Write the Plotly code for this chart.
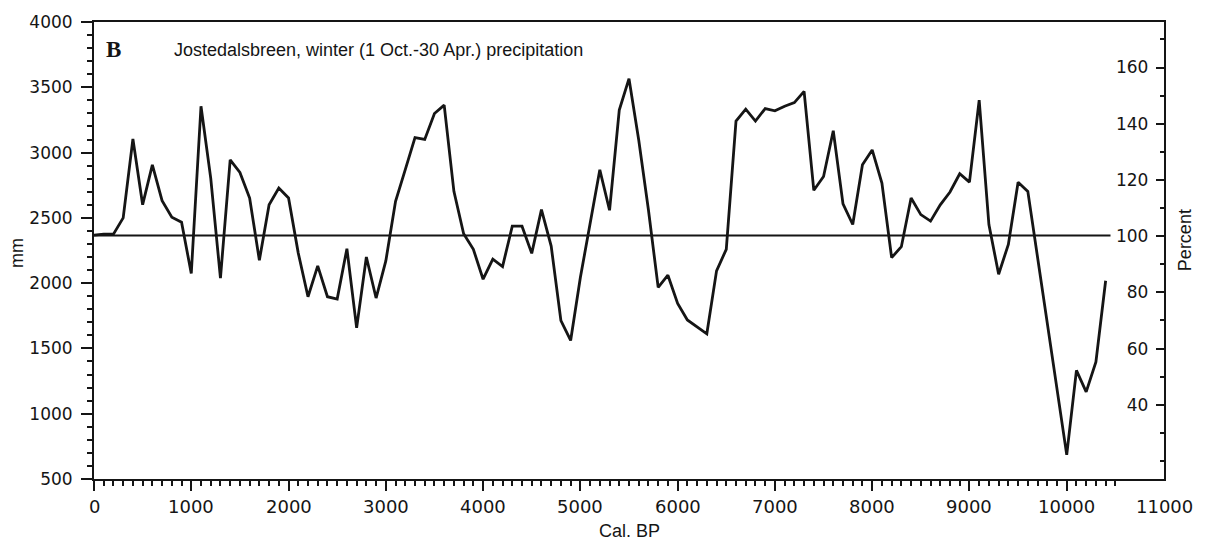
import plotly.graph_objects as go

# Winter (1 Oct.-30 Apr.) precipitation reconstruction, Jostedalsbreen
years = list(range(0, 10401, 100))
precip_mm = [
    2368, 2375, 2375, 2500, 3104, 2601, 2906, 2632, 2505, 2467,   # 0-900
    2074, 3355, 2804, 2038, 2944, 2848, 2652, 2175, 2601, 2728,   # 1000-1900
    2652, 2230, 1896, 2132, 1896, 1878, 2264, 1657, 2200, 1886,   # 2000-2900
    2170, 2627, 2870, 3114, 3101, 3299, 3363, 2703, 2378, 2259,   # 3000-3900
    2030, 2183, 2127, 2436, 2436, 2228, 2563, 2284, 1713, 1561,   # 4000-4900
    2043, 2460, 2868, 2558, 3325, 3566, 3096, 2560, 1967, 2061,   # 5000-5900
    1845, 1718, 1665, 1612, 2094, 2259, 3241, 3332, 3241, 3337,   # 6000-6900
    3320, 3355, 3383, 3469, 2711, 2817, 3167, 2607, 2449, 2906,   # 7000-7900
    3020, 2766, 2195, 2279, 2652, 2525, 2475, 2600, 2698, 2838,   # 8000-8900
    2774, 3401, 2449, 2068, 2297, 2772, 2703, 2203, 1685, 1167,   # 9000-9900
    685, 1332, 1167, 1396, 2018,                                  # 10000-10400
]
mean_mm = 2365          # long-term mean = 100 %
mean_line_end = 10450

x_ticks = list(range(0, 11001, 1000))
x_labels = [str(v) for v in x_ticks]
x_minor = list(range(0, 11001, 100))
mm_ticks = list(range(500, 4001, 500))
mm_labels = [str(v) for v in mm_ticks]
mm_minor = list(range(500, 4001, 100))
pct_ticks = list(range(40, 161, 20))
pct_labels = [str(v) for v in pct_ticks]
pct_minor = list(range(20, 171, 10))

INK = "#151515"
fig = go.Figure()

fig.add_trace(go.Scatter(
    x=[0, mean_line_end], y=[mean_mm, mean_mm], mode="lines",
    line=dict(color=INK, width=2), hoverinfo="skip", showlegend=False))
fig.add_trace(go.Scatter(
    x=years, y=precip_mm, mode="lines",
    line=dict(color=INK, width=2.8), showlegend=False))
# carrier trace for the percent axis
fig.add_trace(go.Scatter(x=[None], y=[None], yaxis="y2", showlegend=False))

tick_font = dict(family="DejaVu Sans", size=17, color=INK)

fig.update_layout(
    width=1207, height=546,
    margin=dict(l=94, r=43, t=16, b=67),
    paper_bgcolor="white", plot_bgcolor="white",
    showlegend=False,
    xaxis=dict(
        range=[0, 11000], tickmode="array", tickvals=x_ticks,
        showticklabels=False,   # labels are written below as annotations
        ticks="outside", ticklen=10, tickwidth=2, tickcolor=INK,
        showline=True, linecolor=INK, linewidth=2, mirror=True,
        showgrid=False, zeroline=False,
        minor=dict(tickmode="array", tickvals=x_minor, ticks="outside",
                   ticklen=5, tickwidth=1.6, tickcolor=INK, showgrid=False),
    ),
    yaxis=dict(
        range=[500, 4000], tickmode="array", tickvals=mm_ticks, ticktext=mm_labels,
        ticks="outside", ticklen=11, tickwidth=2, tickcolor=INK,
        showline=True, linecolor=INK, linewidth=2,
        showgrid=False, zeroline=False, ticklabelstandoff=5,
        minor=dict(tickmode="array", tickvals=mm_minor, ticks="outside",
                   ticklen=5, tickwidth=1.6, tickcolor=INK, showgrid=False),
        tickfont=tick_font,
    ),
    yaxis2=dict(
        overlaying="y", side="right", range=[13.6, 176.2],
        tickmode="array", tickvals=pct_ticks, ticktext=pct_labels,
        ticks="inside", ticklabelposition="inside", ticklen=8, tickwidth=2,
        tickcolor=INK, showline=True, linecolor=INK, linewidth=2,
        showgrid=False, zeroline=False, ticklabelstandoff=8,
        minor=dict(tickmode="array", tickvals=pct_minor, ticks="inside",
                   ticklen=4, tickwidth=1.6, tickcolor=INK, showgrid=False),
        tickfont=tick_font,
    ),
)

plot_l, plot_r, plot_t, plot_b = 94, 1164, 16, 479

def paper_y(py):
    return (plot_b - py) / (plot_b - plot_t)

# x-axis tick labels
for v, lab in zip(x_ticks, x_labels):
    fig.add_annotation(
        x=v, xref="x", y=paper_y(507), yref="paper", text=lab,
        xanchor="center", yanchor="middle", showarrow=False,
        font=dict(family="DejaVu Sans", size=18, color=INK))

annotations = [
    dict(text="B", x=113, y=44, font=dict(family="Liberation Serif", size=23, color=INK, weight="bold"),
         xanchor="center"),
    dict(text="Jostedalsbreen, winter (1 Oct.-30 Apr.) precipitation", x=172, y=44,
         font=dict(family="Liberation Sans", size=18, color=INK), xanchor="left"),
    dict(text="mm", x=17, y=250, textangle=-90,
         font=dict(family="Liberation Sans", size=18, color=INK), xanchor="center"),
    dict(text="Percent", x=1185, y=237, textangle=-90,
         font=dict(family="Liberation Sans", size=18, color=INK), xanchor="center"),
    dict(text="Cal. BP", x=629, y=532,
         font=dict(family="Liberation Sans", size=18, color=INK), xanchor="center"),
]
# place text by pixel position within the page
for a in annotations:
    px, py = a.pop("x"), a.pop("y")
    fig.add_annotation(
        xref="paper", yref="paper",
        x=(px - plot_l) / (plot_r - plot_l), y=paper_y(py),
        yanchor="middle", showarrow=False, **a)

fig.write_html("out.html")
